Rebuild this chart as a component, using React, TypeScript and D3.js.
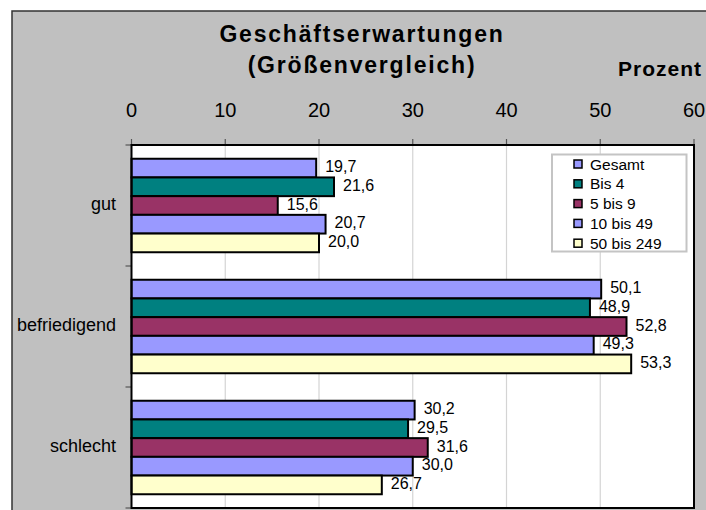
import React from "react";
import * as d3 from "d3";

const categories = ["gut", "befriedigend", "schlecht"];
const seriesNames = ["Gesamt", "Bis 4", "5 bis 9", "10 bis 49", "50 bis 249"];
const seriesColors = ["#9999FF", "#008080", "#993366", "#9999FF", "#FFFFCC"];
const gesamt = [19.7, 50.1, 30.2];
const bis4 = [21.6, 48.9, 29.5];
const bis9 = [15.6, 52.8, 31.6];
const bis49 = [20.7, 49.3, 30.0];
const bis249 = [20.0, 53.3, 26.7];
const valueTicks = [0, 10, 20, 30, 40, 50, 60];

const seriesValues = [gesamt, bis4, bis9, bis49, bis249];

const W = 706;
const H = 510;
const plot = { left: 131.5, right: 694, top: 145, bottom: 508 };
const FONT = "'Liberation Sans', Arial, Helvetica, sans-serif";

const fmt = (v: number) => v.toFixed(1).replace(".", ",");

export default function App() {
  const x = d3.scaleLinear().domain([0, 60]).range([plot.left, plot.right]);
  const pad = 1 - 93.5 / 121;
  const y = d3
    .scaleBand<string>()
    .domain(categories)
    .range([plot.top, plot.bottom])
    .paddingInner(pad)
    .paddingOuter(pad / 2);
  const ys = d3
    .scaleBand<string>()
    .domain(seriesNames)
    .range([0, y.bandwidth()]);
  const step = y.step();
  const boundaries = d3.range(categories.length + 1).map((i) => plot.top + i * step);

  return (
    <svg
      width={W}
      height={H}
      style={{ position: "absolute", left: 0, top: 0, fontFamily: FONT }}
    >
      <rect x={0} y={0} width={W} height={H} fill="#ffffff" />
      <rect x={12} y={11} width={W + 20} height={H + 20} fill="#c0c0c0" stroke="#333" strokeWidth={1.5} />

      <text x={362} y={41.7} textAnchor="middle" fontSize={23} fontWeight="bold" letterSpacing={1.8} fill="#000">
        Geschäftserwartungen
      </text>
      <text x={362} y={73} textAnchor="middle" fontSize={23} fontWeight="bold" letterSpacing={1.8} fill="#000">
        (Größenvergleich)
      </text>
      <text x={702} y={75.5} textAnchor="end" fontSize={21} fontWeight="bold" letterSpacing={1} fill="#000">
        Prozent
      </text>

      <rect
        x={plot.left}
        y={plot.top}
        width={plot.right - plot.left}
        height={plot.bottom - plot.top}
        fill="#ffffff"
      />
      {valueTicks.slice(1, -1).map((t) => (
        <line key={"g" + t} x1={x(t)} x2={x(t)} y1={plot.top} y2={plot.bottom} stroke="#d4d4d4" strokeWidth={1.2} />
      ))}

      {valueTicks.map((t) => (
        <g key={"t" + t}>
          <line x1={x(t)} x2={x(t)} y1={plot.top - 6} y2={plot.top} stroke="#555" strokeWidth={1.2} />
          <text x={x(t)} y={117} textAnchor="middle" fontSize={20} fill="#000">
            {t}
          </text>
        </g>
      ))}
      {boundaries.map((b, i) => (
        <line key={"c" + i} x1={plot.left - 6} x2={plot.left} y1={b} y2={b} stroke="#555" strokeWidth={1.2} />
      ))}
      {categories.map((c) => (
        <text key={c} x={116} y={(y(c) ?? 0) + y.bandwidth() / 2 + 4.5} textAnchor="end" fontSize={18} fill="#000">
          {c}
        </text>
      ))}

      {seriesNames.map((s, si) =>
        categories.map((c, ci) => {
          const v = seriesValues[si][ci];
          const by = (y(c) ?? 0) + (ys(s) ?? 0);
          return (
            <g key={s + c}>
              <rect
                x={x(0)}
                y={by}
                width={x(v) - x(0)}
                height={ys.bandwidth()}
                fill={seriesColors[si]}
                stroke="#000"
                strokeWidth={2}
              />
              <text x={x(v) + 9} y={by + ys.bandwidth() / 2 + 4} fontSize={16} fill="#000">
                {fmt(v)}
              </text>
            </g>
          );
        })
      )}

      <rect
        x={plot.left}
        y={plot.top}
        width={plot.right - plot.left}
        height={plot.bottom - plot.top}
        fill="none"
        stroke="#000"
        strokeWidth={2}
      />

      <rect x={552} y={154.5} width={134.5} height={97} fill="#ffffff" stroke="#c4c4c4" strokeWidth={2} />
      {seriesNames.map((s, i) => {
        const cy = 164 + i * 19.8;
        return (
          <g key={"l" + s}>
            <rect x={574} y={cy - 4} width={8} height={8} fill={seriesColors[i]} stroke="#000" strokeWidth={1.5} />
            <text x={590} y={cy + 5.5} fontSize={15.5} fill="#000">
              {s}
            </text>
          </g>
        );
      })}
    </svg>
  );
}
